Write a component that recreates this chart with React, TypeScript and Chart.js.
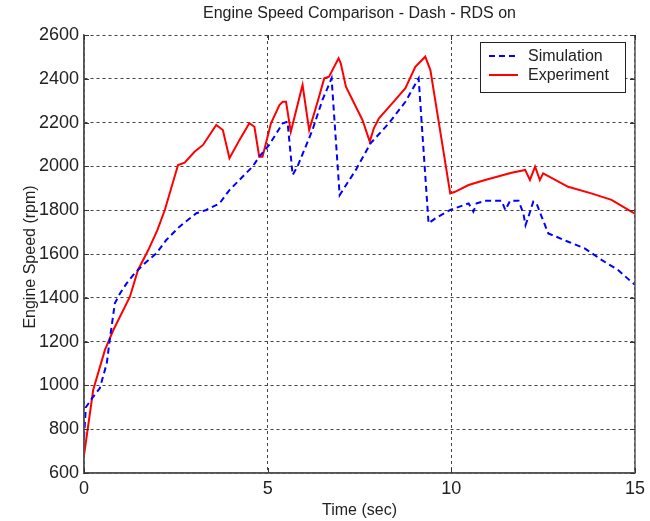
import React, { useEffect, useRef } from 'react';
import { Chart, registerables } from 'chart.js';
Chart.register(...registerables);

const TITLE = 'Engine Speed Comparison - Dash - RDS on';
const X_TITLE = 'Time (sec)';
const Y_TITLE = 'Engine Speed (rpm)';
const SERIES_NAMES = ['Simulation', 'Experiment'];

const simTime = [0, 0.05, 0.25, 0.43, 0.62, 0.7, 0.84, 0.98, 1.16, 1.38, 1.65, 1.97, 2.24, 2.6, 3.06, 3.33, 3.69, 3.96, 4.23, 4.59, 4.77, 5.04, 5.41, 5.54, 5.68, 5.81, 6.22, 6.49, 6.74, 6.96, 7.4, 7.8, 8.3, 8.75, 9.11, 9.38, 9.57, 9.97, 10.47, 10.6, 10.69, 10.92, 11.37, 11.47, 11.6, 11.83, 11.96, 12.02, 12.1, 12.23, 12.32, 12.46, 12.64, 13.18, 13.63, 14.09, 14.54, 14.9, 15];
const simRpm = [760, 900, 948, 987, 1101, 1207, 1375, 1420, 1466, 1512, 1557, 1603, 1664, 1725, 1786, 1801, 1831, 1892, 1938, 1999, 2044, 2098, 2197, 2204, 1961, 1999, 2166, 2303, 2402, 1869, 1984, 2105, 2197, 2295, 2402, 1740, 1763, 1801, 1831, 1793, 1831, 1843, 1843, 1801, 1843, 1843, 1786, 1732, 1770, 1839, 1831, 1770, 1694, 1656, 1626, 1573, 1527, 1473, 1460];

const expTime = [0, 0.25, 0.57, 0.8, 1.25, 1.47, 1.75, 2.0, 2.2, 2.56, 2.74, 3.01, 3.24, 3.6, 3.78, 3.96, 4.23, 4.5, 4.64, 4.77, 4.86, 5.09, 5.32, 5.41, 5.5, 5.63, 5.95, 6.13, 6.36, 6.54, 6.67, 6.93, 6.99, 7.13, 7.58, 7.78, 7.89, 8.03, 8.39, 8.75, 9.02, 9.29, 9.43, 9.97, 10.1, 10.47, 10.92, 11.64, 12.01, 12.14, 12.28, 12.41, 12.5, 13.18, 13.81, 14.36, 14.9, 15];
const expRpm = [680, 979, 1162, 1253, 1405, 1527, 1618, 1710, 1801, 2006, 2017, 2067, 2098, 2189, 2166, 2037, 2120, 2197, 2181, 2044, 2044, 2197, 2280, 2295, 2295, 2158, 2372, 2166, 2295, 2402, 2410, 2494, 2471, 2364, 2212, 2113, 2174, 2220, 2288, 2357, 2455, 2501, 2440, 1877, 1884, 1915, 1938, 1971, 1984, 1938, 1999, 1938, 1968, 1907, 1877, 1847, 1793, 1785];

const FONT = '"Liberation Sans", Arial, sans-serif';
const TEXT = '#222';

const decor = {
  id: 'decor',
  afterDraw(chart: any) {
    const { ctx, chartArea: a, scales } = chart;
    ctx.save();
    ctx.strokeStyle = '#555';
    ctx.lineWidth = 1.5;
    ctx.setLineDash([]);
    ctx.beginPath();
    ctx.moveTo(a.left, a.top);
    ctx.lineTo(a.left, a.bottom);
    ctx.lineTo(a.right, a.bottom);
    ctx.lineTo(a.right, a.top);
    ctx.stroke();
    ctx.strokeStyle = '#333';
    ctx.lineWidth = 1;
    ctx.beginPath();
    scales.y.ticks.forEach((t: any) => {
      const y = Math.round(scales.y.getPixelForValue(t.value)) + 0.5;
      ctx.moveTo(a.left, y); ctx.lineTo(a.left + 5, y);
      ctx.moveTo(a.right, y); ctx.lineTo(a.right - 5, y);
    });
    scales.x.ticks.forEach((t: any) => {
      const x = Math.round(scales.x.getPixelForValue(t.value)) + 0.5;
      ctx.moveTo(x, a.bottom); ctx.lineTo(x, a.bottom - 5);
      ctx.moveTo(x, a.top); ctx.lineTo(x, a.top + 5);
    });
    ctx.stroke();

    ctx.fillStyle = TEXT;
    ctx.font = `16px ${FONT}`;
    ctx.textAlign = 'center';
    ctx.textBaseline = 'middle';
    ctx.fillText(TITLE, (a.left + a.right) / 2, 14);
    ctx.fillText(X_TITLE, (a.left + a.right) / 2, 511);
    ctx.save();
    ctx.translate(31, 257);
    ctx.rotate(-Math.PI / 2);
    ctx.fillText(Y_TITLE, 0, 0);
    ctx.restore();

    const bx = a.right - 155, by = a.top + 7, bw = 145, bh = 50;
    ctx.fillStyle = '#fff';
    ctx.fillRect(bx, by, bw, bh);
    ctx.strokeStyle = '#222';
    ctx.lineWidth = 1;
    ctx.strokeRect(bx + 0.5, by + 0.5, bw, bh);
    chart.data.datasets.forEach((ds: any, i: number) => {
      const y = by + 14 + i * 19;
      ctx.strokeStyle = ds.borderColor;
      ctx.lineWidth = 2;
      ctx.setLineDash(ds.borderDash || []);
      ctx.beginPath();
      ctx.moveTo(bx + 9, y);
      ctx.lineTo(bx + 38, y);
      ctx.stroke();
      ctx.setLineDash([]);
      ctx.fillStyle = TEXT;
      ctx.textAlign = 'left';
      ctx.font = `16px ${FONT}`;
      ctx.fillText(ds.label, bx + 48, y + 1);
    });
    ctx.restore();
  },
};

export default function App() {
  const ref = useRef<HTMLCanvasElement>(null);
  useEffect(() => {
    const chart = new Chart(ref.current!, {
      type: 'line',
      data: {
        datasets: [
          {
            label: SERIES_NAMES[0],
            data: simTime.map((t, i) => ({ x: t, y: simRpm[i] })),
            borderColor: '#0000ff',
            borderWidth: 2,
            borderDash: [6, 4],
            pointRadius: 0,
            tension: 0,
            fill: false,
          },
          {
            label: SERIES_NAMES[1],
            data: expTime.map((t, i) => ({ x: t, y: expRpm[i] })),
            borderColor: '#ff0000',
            borderWidth: 2,
            pointRadius: 0,
            tension: 0,
            fill: false,
          },
        ],
      },
      options: {
        responsive: false,
        animation: false,
        layout: { padding: { left: 0, right: 13, top: 35, bottom: 0 } },
        plugins: {
          legend: { display: false },
          title: { display: false },
          tooltip: { enabled: false },
        },
        scales: {
          x: {
            type: 'linear',
            min: 0,
            max: 15,
            ticks: { stepSize: 5, color: TEXT, font: { family: FONT, size: 18 }, padding: 5, maxRotation: 0, callback: (v: any) => String(v) },
            grid: { color: '#444', lineWidth: 1, drawTicks: false },
            border: { display: true, color: '#555', width: 1.5, dash: [3, 3] },
            afterFit: (s: any) => { s.height = 48; },
          },
          y: {
            min: 600,
            max: 2600,
            ticks: { stepSize: 200, color: TEXT, font: { family: FONT, size: 18 }, padding: 5, callback: (v: any) => String(v) },
            grid: { color: '#444', lineWidth: 1, drawTicks: false },
            border: { display: true, color: '#555', width: 1.5, dash: [3, 3] },
            afterFit: (s: any) => { s.width = 84; },
          },
        },
      },
      plugins: [decor],
    } as any);
    return () => chart.destroy();
  }, []);
  return (
    <div style={{ position: 'fixed', left: 0, top: 0, width: 650, height: 521, background: '#fff' }}>
      <canvas ref={ref} width={650} height={521} />
    </div>
  );
}
